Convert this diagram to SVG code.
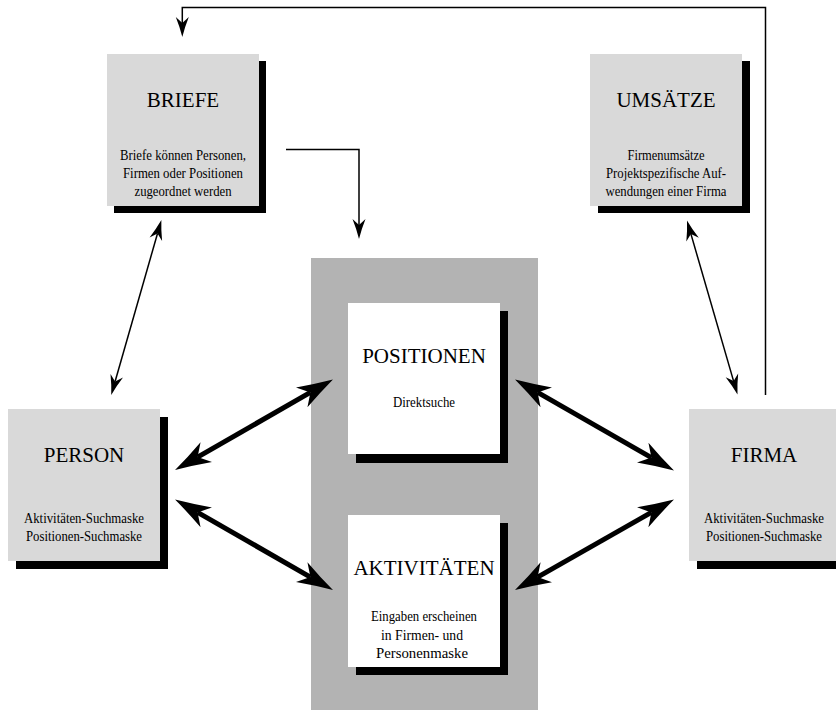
<svg xmlns="http://www.w3.org/2000/svg" width="836" height="710" viewBox="0 0 836 710">
<style>
.shadow{fill:#000}
.box{fill:#d9d9d9}
.wbox{fill:#fff}
.title{font-family:"Liberation Serif","Times New Roman",serif;font-size:21px;text-anchor:middle;fill:#000}
.body{font-family:"Liberation Serif","Times New Roman",serif;font-size:15px;text-anchor:middle;fill:#000}
.thin{fill:none;stroke:#000;stroke-width:1.5}
.thick{fill:none;stroke:#000;stroke-width:5}
</style>
<defs>
<marker id="ah" markerUnits="userSpaceOnUse" orient="auto-start-reverse" refX="0" refY="0" markerWidth="40" markerHeight="30" viewBox="-12 -13 40 26" overflow="visible">
<path d="M26,0 Q8,-5 -10,-11.5 L0,0 L-10,11.5 Q8,5 26,0 Z" fill="#000"/>
</marker>
<marker id="ahs" markerUnits="userSpaceOnUse" orient="auto-start-reverse" refX="0" refY="0" markerWidth="24" markerHeight="16" viewBox="-7 -8 24 16" overflow="visible">
<path d="M14,0 Q4,-2.5 -6,-6.5 L0,0 L-6,6.5 Q4,2.5 14,0 Z" fill="#000"/>
</marker>
</defs>

<rect id="center-area" x="311" y="258" width="227" height="452" fill="#b3b3b3"/>

<g id="briefe">
<rect class="shadow" x="114" y="61" width="152" height="152"/>
<rect class="box" x="107" y="54" width="152" height="152"/>
<text class="title" x="183" y="107">BRIEFE</text>
<text class="body" x="183" y="160" textLength="126" lengthAdjust="spacingAndGlyphs">Briefe können Personen,</text>
<text class="body" x="183" y="178" textLength="120" lengthAdjust="spacingAndGlyphs">Firmen oder Positionen</text>
<text class="body" x="183" y="196" textLength="97" lengthAdjust="spacingAndGlyphs">zugeordnet werden</text>
</g>

<g id="umsaetze">
<rect class="shadow" x="598" y="61" width="152" height="152"/>
<rect class="box" x="590" y="54" width="152" height="152"/>
<text class="title" x="666" y="107">UMSÄTZE</text>
<text class="body" x="666" y="160" textLength="77" lengthAdjust="spacingAndGlyphs">Firmenumsätze</text>
<text class="body" x="666" y="178" textLength="120" lengthAdjust="spacingAndGlyphs">Projektspezifische Auf-</text>
<text class="body" x="666" y="196" textLength="121" lengthAdjust="spacingAndGlyphs">wendungen einer Firma</text>
</g>

<g id="positionen">
<rect class="shadow" x="356" y="311" width="152" height="152"/>
<rect class="wbox" x="348" y="303" width="152" height="151"/>
<text class="title" x="424" y="363">POSITIONEN</text>
<text class="body" x="424" y="406.5" textLength="62" lengthAdjust="spacingAndGlyphs">Direktsuche</text>
</g>

<g id="aktivitaeten">
<rect class="shadow" x="356" y="523" width="152" height="152"/>
<rect class="wbox" x="348" y="515" width="152" height="152"/>
<text class="title" x="424" y="575">AKTIVITÄTEN</text>
<text class="body" x="424" y="620.5" textLength="106" lengthAdjust="spacingAndGlyphs">Eingaben erscheinen</text>
<text class="body" x="422" y="639.5" textLength="82" lengthAdjust="spacingAndGlyphs">in Firmen- und</text>
<text class="body" x="422" y="658" textLength="92" lengthAdjust="spacingAndGlyphs">Personenmaske</text>
</g>

<g id="person">
<rect class="shadow" x="16" y="417" width="152" height="152"/>
<rect class="box" x="8" y="409" width="152" height="152"/>
<text class="title" x="84" y="461.5">PERSON</text>
<text class="body" x="84" y="522.5" textLength="120" lengthAdjust="spacingAndGlyphs">Aktivitäten-Suchmaske</text>
<text class="body" x="84" y="541" textLength="116" lengthAdjust="spacingAndGlyphs">Positionen-Suchmaske</text>
</g>

<g id="firma">
<rect class="shadow" x="697" y="417" width="139" height="152"/>
<rect class="box" x="689" y="409" width="147" height="152"/>
<text class="title" x="764" y="461.5">FIRMA</text>
<text class="body" x="764" y="522.5" textLength="120" lengthAdjust="spacingAndGlyphs">Aktivitäten-Suchmaske</text>
<text class="body" x="764" y="541" textLength="116" lengthAdjust="spacingAndGlyphs">Positionen-Suchmaske</text>
</g>

<g id="connectors">
<path class="thin" d="M765.5,395 V7.5 H182.3 V23" marker-end="url(#ahs)"/>
<path class="thin" d="M286,149.5 H359 V225" marker-end="url(#ahs)"/>
<path class="thin" d="M157.5,233.5 L115.1,381.5" marker-start="url(#ahs)" marker-end="url(#ahs)"/>
<path class="thin" d="M690.9,233.9 L733.6,381.1" marker-start="url(#ahs)" marker-end="url(#ahs)"/>
<path class="thick" d="M197.6,457.1 L310.4,392.4" marker-start="url(#ah)" marker-end="url(#ah)"/>
<path class="thick" d="M197.6,512.4 L310.4,577.1" marker-start="url(#ah)" marker-end="url(#ah)"/>
<path class="thick" d="M537.6,392.4 L651.4,457.6" marker-start="url(#ah)" marker-end="url(#ah)"/>
<path class="thick" d="M537.6,577.1 L651.4,512.4" marker-start="url(#ah)" marker-end="url(#ah)"/>
</g>
</svg>
